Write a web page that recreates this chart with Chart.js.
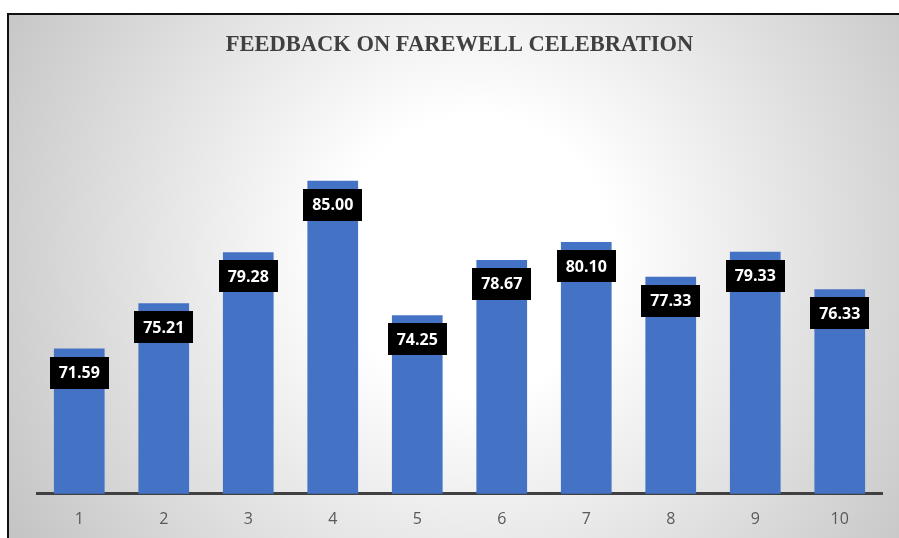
<!DOCTYPE html>
<html>
<head>
<meta charset="utf-8">
<script src="https://cdn.jsdelivr.net/npm/chart.js@4.4.0/dist/chart.umd.min.js"></script>
<style>
  html, body { margin: 0; padding: 0; background: #fff; overflow: hidden; }
  #frame {
    position: absolute; left: 7px; top: 13px; width: 930px; height: 580px;
    border-left: 2px solid #111; border-top: 2px solid #111;
    background: radial-gradient(circle farthest-corner at 465px 240px, #ffffff 0%, #ffffff 24%, #bfbfbf 100%);
  }
  #wrap { position: absolute; left: 0; top: 0; width: 899px; height: 538px; }
</style>
</head>
<body>
<div id="frame"></div>
<div id="wrap"><canvas id="myChart" width="899" height="538"></canvas></div>
<script>
const categories = ['1', '2', '3', '4', '5', '6', '7', '8', '9', '10'];
const feedbackScores = [71.59, 75.21, 79.28, 85.00, 74.25, 78.67, 80.10, 77.33, 79.33, 76.33];
const titleText = 'FEEDBACK ON FAREWELL CELEBRATION';

// black boxes with white values, just under the top of each bar
const boxLabels = {
    id: 'boxLabels',
    afterDatasetsDraw(chart) {
        const ctx = chart.ctx;
        const meta = chart.getDatasetMeta(0);
        ctx.save();
        ctx.font = 'bold 16px "Open Sans"';
        ctx.textAlign = 'center';
        ctx.textBaseline = 'middle';
        meta.data.forEach((bar, i) => {
            const txt = feedbackScores[i].toFixed(2);
            const w = ctx.measureText(txt).width + 18;
            const h = 32;
            const top = bar.y + 8;
            ctx.fillStyle = '#000';
            ctx.fillRect(Math.round(bar.x - w / 2), Math.round(top), Math.round(w), h);
            ctx.fillStyle = '#fff';
            ctx.fillText(txt, bar.x, top + h / 2 + 1);
        });
        ctx.restore();
    }
};

const ctx = document.getElementById('myChart').getContext('2d');
new Chart(ctx, {
    type: 'bar',
    data: {
        labels: categories,
        datasets: [{
            label: 'Feedback',
            data: feedbackScores,
            backgroundColor: '#4472C4',
            borderWidth: 0,
            barPercentage: 0.6,
            categoryPercentage: 1.0,
        }],
    },
    options: {
        responsive: false,
        animation: false,
        layout: { padding: { left: 37, right: 17, top: 0, bottom: -7 } },
        plugins: {
            legend: { display: false },
            tooltip: { enabled: false },
            title: {
                display: true,
                text: titleText,
                color: '#404040',
                font: { family: '"Liberation Serif"', size: 22.5, weight: 'bold' },
                padding: { top: 32, bottom: 59 },
            },
        },
        scales: {
            x: {
                grid: { display: false, drawTicks: false },
                border: { display: true, color: '#404040', width: 3 },
                ticks: { color: '#595959', font: { family: '"Open Sans"', size: 16 }, padding: 16 },
            },
            y: {
                display: false,
                min: 60,
                max: 90,
            },
        },
    },
    plugins: [boxLabels],
});
</script>
</body>
</html>
